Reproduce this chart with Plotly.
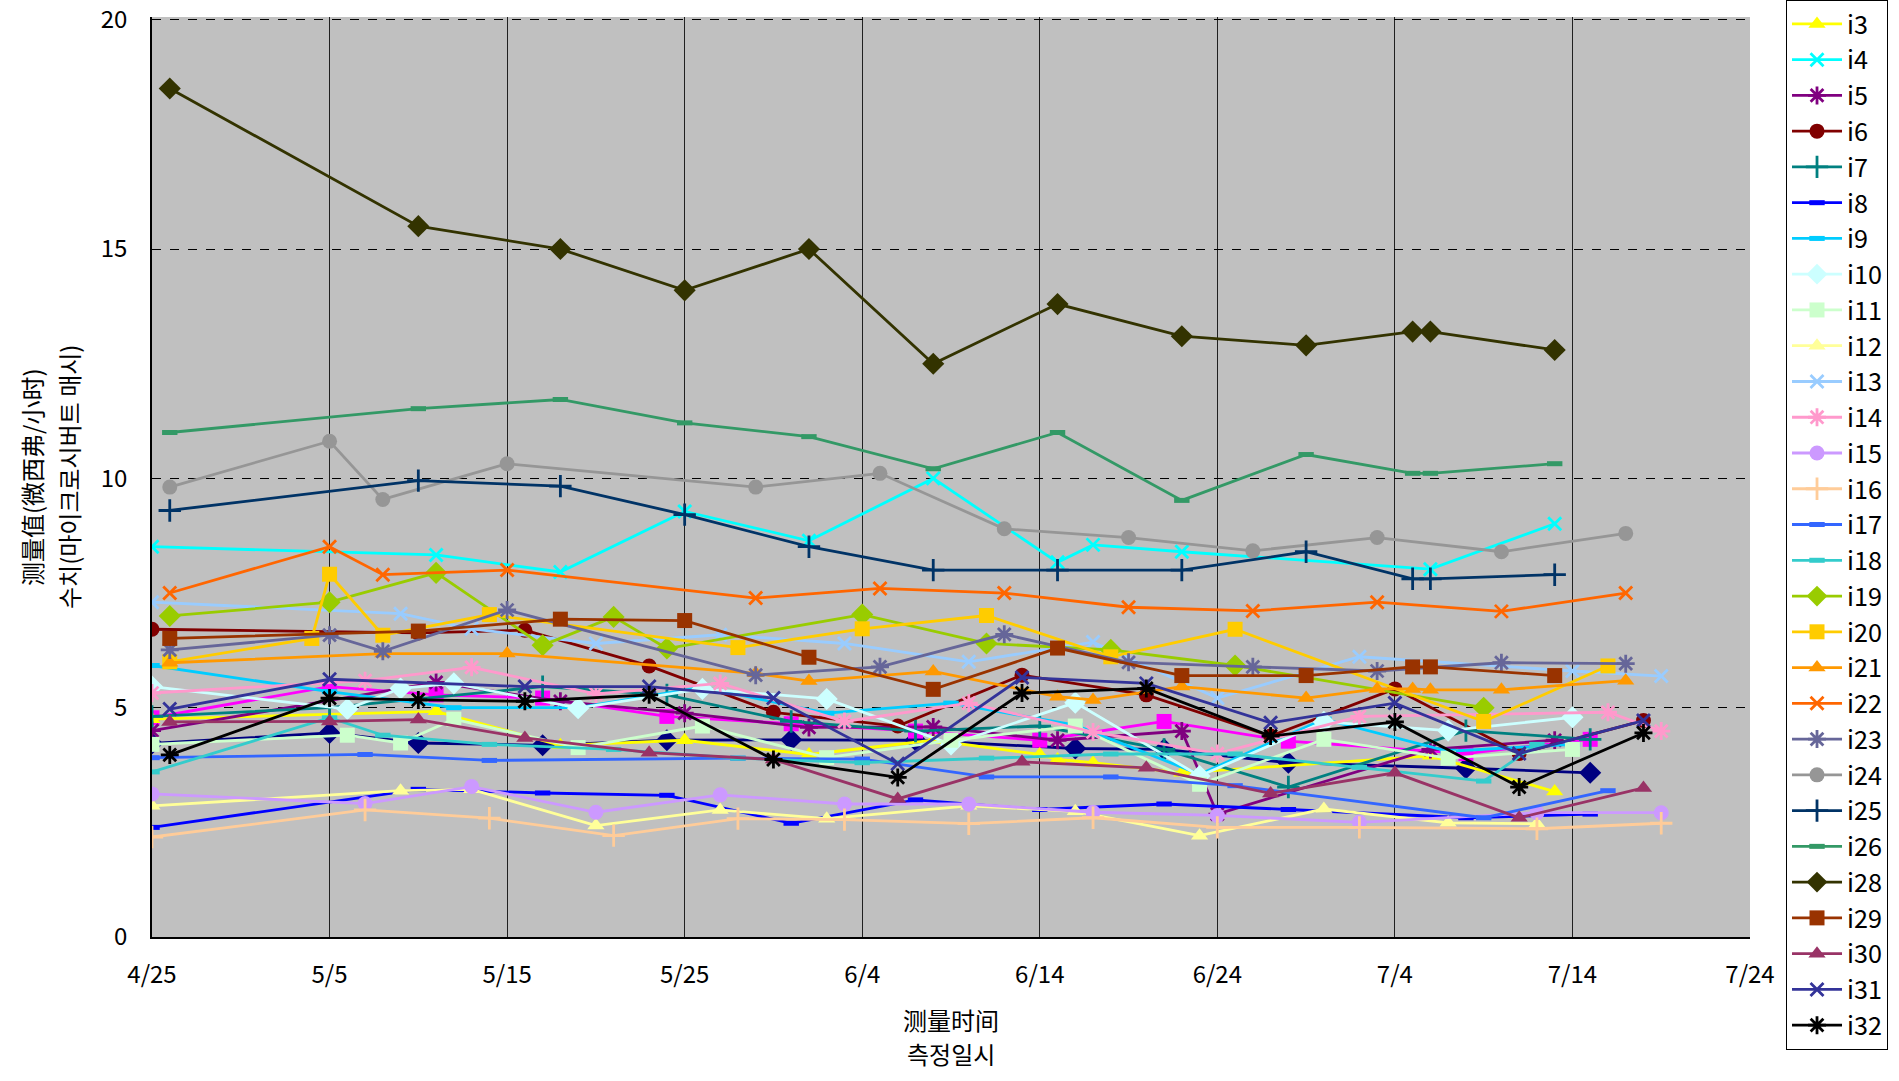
import plotly.graph_objects as go

YEAR = 2011

# ---- data: dates (M/D) and measured values (uSv/h) ----
I1_DATES = ["4/25","5/5","5/10","5/17","5/24","5/31","6/7","6/16","6/21","6/28","7/8","7/15"]
I1_VALS = [4.22,4.45,4.23,4.18,4.29,4.30,4.29,4.11,4.09,3.80,3.68,3.58]
I2_DATES = ["4/25","5/5","5/11","5/17","5/24","5/31","6/7","6/14","6/21","6/28","7/8","7/15"]
I2_VALS = [4.78,5.46,5.28,5.21,4.81,4.65,4.49,4.29,4.70,4.27,4.00,4.31]
I3_DATES = ["4/25","5/11","5/18","5/25","6/1","6/8","6/14","6/15","6/17","6/22","7/6","7/13"]
I3_VALS = [4.75,4.92,4.18,4.29,3.98,4.29,3.98,3.87,3.80,3.58,3.95,3.17]
I4_DATES = ["4/25","5/11","5/18","5/25","6/1","6/8","6/15","6/17","6/22","7/6","7/13"]
I4_VALS = [8.51,8.33,7.96,9.28,8.64,10.0,8.17,8.55,8.40,8.02,9.01]
I5_DATES = ["4/25","5/11","5/18","5/25","6/1","6/8","6/15","6/22","6/24","7/6","7/13"]
I5_VALS = [4.50,5.55,5.14,4.88,4.57,4.58,4.29,4.49,2.68,4.09,4.29]
I6_DATES = ["4/25","5/10","5/16","5/23","5/30","6/6","6/13","6/20","6/27","7/4","7/11","7/18"]
I6_VALS = [6.71,6.63,6.69,5.91,4.90,4.60,5.71,5.28,4.38,5.41,4.00,4.72]
I7_DATES = ["4/25","5/5","5/17","5/24","5/31","6/7","6/14","6/21","6/28","7/8","7/15"]
I7_VALS = [4.81,5.00,5.46,5.28,4.70,4.49,4.60,4.09,3.27,4.50,4.31]
I8_DATES = ["4/25","5/10","5/17","5/24","5/31","6/7","6/14","6/21","6/28","7/8","7/15"]
I8_VALS = [2.39,3.22,3.14,3.09,2.48,2.99,2.78,2.90,2.78,2.60,2.68]
I9_DATES = ["4/25","5/5","5/12","5/19","5/26","6/2","6/9","6/16","6/23","6/30","7/7","7/14"]
I9_VALS = [5.92,5.35,5.00,5.00,5.45,4.88,5.10,4.62,3.55,4.75,4.05,4.20]
I10_DATES = ["4/25","5/6","5/9","5/12","5/19","5/26","6/2","6/9","6/16","6/23","6/30","7/7","7/14"]
I10_VALS = [5.46,4.97,5.42,5.53,4.99,5.41,5.19,4.20,5.11,3.51,4.69,4.50,4.79]
I11_DATES = ["4/25","5/6","5/9","5/12","5/19","5/26","6/2","6/9","6/16","6/23","6/30","7/7","7/14"]
I11_VALS = [4.20,4.40,4.23,4.75,4.13,4.60,3.91,4.29,4.60,3.33,4.31,3.90,4.09]
I12_DATES = ["4/25","5/9","5/13","5/20","5/27","6/2","6/10","6/16","6/23","6/30","7/7","7/12"]
I12_VALS = [2.86,3.19,3.22,2.43,2.77,2.58,2.86,2.74,2.21,2.79,2.49,2.47]
I13_DATES = ["4/25","5/9","5/13","5/20","5/27","6/3","6/10","6/17","6/24","7/2","7/14","7/19"]
I13_VALS = [7.30,7.05,6.72,6.40,6.59,6.40,6.00,6.43,5.21,6.11,5.80,5.69]
I14_DATES = ["4/25","5/7","5/13","5/20","5/27","6/3","6/10","6/17","6/24","7/2","7/16","7/19"]
I14_VALS = [5.32,5.59,5.88,5.30,5.53,4.70,5.10,4.47,4.00,4.81,4.90,4.49]
I15_DATES = ["4/25","5/7","5/13","5/20","5/27","6/3","6/10","6/17","6/24","7/2","7/12","7/19"]
I15_VALS = [3.12,2.91,3.28,2.72,3.10,2.90,2.90,2.72,2.65,2.50,2.71,2.71]
I16_DATES = ["4/25","5/7","5/14","5/21","5/28","6/3","6/10","6/17","6/24","7/2","7/12","7/19"]
I16_VALS = [2.18,2.77,2.59,2.21,2.58,2.56,2.47,2.60,2.39,2.39,2.36,2.48]
I17_DATES = ["4/25","5/7","5/14","5/28","6/4","6/11","6/18","6/25","7/9","7/16"]
I17_VALS = [3.91,3.98,3.85,3.90,3.88,3.49,3.49,3.30,2.60,3.19]
I18_DATES = ["4/25","5/5","5/8","5/14","5/21","5/28","6/4","6/11","6/18","6/25","7/2","7/9","7/12"]
I18_VALS = [3.60,4.78,4.40,4.20,4.09,3.90,3.80,3.90,3.99,3.99,3.70,3.40,4.20]
I19_DATES = ["4/26","5/5","5/11","5/17","5/21","5/24","6/4","6/11","6/18","6/25","7/9"]
I19_VALS = [7.00,7.30,7.94,6.36,6.98,6.29,7.03,6.40,6.26,5.92,5.00]
I20_DATES = ["4/26","5/4","5/5","5/8","5/14","5/28","6/4","6/11","6/18","6/25","7/9","7/16"]
I20_VALS = [6.00,6.51,7.91,6.58,7.03,6.31,6.72,7.01,6.11,6.71,4.70,5.91]
I21_DATES = ["4/26","5/8","5/15","5/29","6/1","6/8","6/15","6/17","6/22","6/29","7/3","7/5","7/6","7/10","7/17"]
I21_VALS = [5.98,6.18,6.18,5.75,5.58,5.79,5.24,5.17,5.46,5.21,5.41,5.41,5.39,5.39,5.59]
I22_DATES = ["4/26","5/5","5/8","5/15","5/29","6/5","6/12","6/19","6/26","7/3","7/10","7/17"]
I22_VALS = [7.50,8.51,7.90,8.00,7.39,7.60,7.50,7.19,7.11,7.30,7.10,7.50]
I23_DATES = ["4/26","5/5","5/8","5/15","5/29","6/5","6/12","6/19","6/26","7/3","7/10","7/17"]
I23_VALS = [6.26,6.58,6.23,7.13,5.71,5.89,6.60,5.99,5.89,5.80,5.98,5.96]
I24_DATES = ["4/26","5/5","5/8","5/15","5/29","6/5","6/12","6/19","6/26","7/3","7/10","7/17"]
I24_VALS = [9.81,10.81,9.54,10.32,9.81,10.11,8.90,8.71,8.42,8.71,8.40,8.80]
I25_DATES = ["4/26","5/10","5/18","5/25","6/1","6/8","6/15","6/22","6/29","7/5","7/6","7/13"]
I25_VALS = [9.30,9.95,9.83,9.21,8.51,8.00,8.00,8.00,8.40,7.81,7.81,7.90]
I26_DATES = ["4/26","5/10","5/18","5/25","6/1","6/8","6/15","6/22","6/29","7/5","7/6","7/13"]
I26_VALS = [11.0,11.52,11.72,11.21,10.91,10.21,11.0,9.52,10.52,10.11,10.11,10.32]
I28_DATES = ["4/26","5/10","5/18","5/25","6/1","6/8","6/15","6/22","6/29","7/5","7/6","7/13"]
I28_VALS = [18.5,15.5,15.0,14.1,15.0,12.5,13.8,13.1,12.9,13.2,13.2,12.8]
I29_DATES = ["4/26","5/10","5/18","5/25","6/1","6/8","6/15","6/22","6/29","7/5","7/6","7/13"]
I29_VALS = [6.51,6.67,6.93,6.90,6.10,5.40,6.30,5.70,5.70,5.89,5.89,5.70]
I30_DATES = ["4/26","5/5","5/10","5/16","5/23","5/30","6/6","6/13","6/20","6/27","7/4","7/11","7/18"]
I30_VALS = [4.69,4.70,4.74,4.34,4.02,3.87,3.01,3.82,3.69,3.13,3.58,2.60,3.25]
I31_DATES = ["4/26","5/5","5/16","5/23","5/30","6/6","6/13","6/20","6/27","7/4","7/11","7/18"]
I31_VALS = [4.97,5.62,5.46,5.46,5.21,3.78,5.66,5.53,4.67,5.10,4.00,4.72]
I32_DATES = ["4/26","5/5","5/10","5/16","5/23","5/30","6/6","6/13","6/20","6/27","7/4","7/11","7/18"]
I32_VALS = [3.97,5.21,5.17,5.14,5.28,3.87,3.48,5.32,5.42,4.38,4.69,3.27,4.45]

X_TICK_START = "4/25"
X_TICK_END = "7/24"
Y_TICKS = [0, 5, 10, 15, 20]
Y_TITLE_LINES = ["测量值(微西弗/小时)", "수치(마이크로시버트 매시)"]
X_TITLE_LINES = ["测量时间", "측정일시"]

# name, dates, values, color, marker kind, show in legend
SERIES = [
    ("i1", I1_DATES, I1_VALS, "#000080", "diamond", False),
    ("i2", I2_DATES, I2_VALS, "#FF00FF", "square", False),
    ("i3", I3_DATES, I3_VALS, "#FFFF00", "triangle", True),
    ("i4", I4_DATES, I4_VALS, "#00FFFF", "x", True),
    ("i5", I5_DATES, I5_VALS, "#800080", "star", True),
    ("i6", I6_DATES, I6_VALS, "#800000", "circle", True),
    ("i7", I7_DATES, I7_VALS, "#008080", "plus", True),
    ("i8", I8_DATES, I8_VALS, "#0000FF", "dash", True),
    ("i9", I9_DATES, I9_VALS, "#00CCFF", "dash", True),
    ("i10", I10_DATES, I10_VALS, "#CCFFFF", "diamond", True),
    ("i11", I11_DATES, I11_VALS, "#CCFFCC", "square", True),
    ("i12", I12_DATES, I12_VALS, "#FFFF99", "triangle", True),
    ("i13", I13_DATES, I13_VALS, "#99CCFF", "x", True),
    ("i14", I14_DATES, I14_VALS, "#FF99CC", "star", True),
    ("i15", I15_DATES, I15_VALS, "#CC99FF", "circle", True),
    ("i16", I16_DATES, I16_VALS, "#FFCC99", "plus", True),
    ("i17", I17_DATES, I17_VALS, "#3366FF", "dash", True),
    ("i18", I18_DATES, I18_VALS, "#33CCCC", "dash", True),
    ("i19", I19_DATES, I19_VALS, "#99CC00", "diamond", True),
    ("i20", I20_DATES, I20_VALS, "#FFCC00", "square", True),
    ("i21", I21_DATES, I21_VALS, "#FF9900", "triangle", True),
    ("i22", I22_DATES, I22_VALS, "#FF6600", "x", True),
    ("i23", I23_DATES, I23_VALS, "#666699", "star", True),
    ("i24", I24_DATES, I24_VALS, "#969696", "circle", True),
    ("i25", I25_DATES, I25_VALS, "#003366", "plus", True),
    ("i26", I26_DATES, I26_VALS, "#339966", "dash", True),
    ("i28", I28_DATES, I28_VALS, "#333300", "diamond", True),
    ("i29", I29_DATES, I29_VALS, "#993300", "square", True),
    ("i30", I30_DATES, I30_VALS, "#993366", "triangle", True),
    ("i31", I31_DATES, I31_VALS, "#333399", "x", True),
    ("i32", I32_DATES, I32_VALS, "#000000", "star", True),
]

MARKERS = {
    "triangle": dict(symbol="triangle-up", size=15, lw=0),
    "x": dict(symbol="x-thin", size=13, lw=2.8),
    "star": dict(symbol="asterisk", size=15, lw=2.8),
    "circle": dict(symbol="circle", size=15, lw=0),
    "plus": dict(symbol="cross-thin", size=16, lw=2.8),
    "dash": dict(symbol="line-ew", size=11, lw=5),
    "diamond": dict(symbol="diamond", size=17, lw=0),
    "square": dict(symbol="square", size=15, lw=0),
}


def to_iso(md):
    m, d = md.split("/")
    return f"{YEAR}-{int(m):02d}-{int(d):02d}"


fig = go.Figure()
for name, dates, vals, color, kind, show in SERIES:
    mk = MARKERS[kind]
    fig.add_trace(go.Scatter(
        x=[to_iso(d) for d in dates], y=vals, name=name, mode="lines+markers",
        showlegend=show,
        line=dict(color=color, width=2.8),
        marker=dict(symbol=mk["symbol"], size=mk["size"], color=color,
                    line=dict(color=color, width=mk["lw"])),
    ))

FONT = "Noto Sans CJK JP"
L, R, T, B = 152, 149, 17, 144

annotations = []
for i, txt in enumerate(Y_TITLE_LINES):
    annotations.append(dict(
        text=txt, xref="paper", yref="paper", x=0, y=0.5, xanchor="center", yanchor="middle",
        xshift=[-121, -84][i], textangle=-90, showarrow=False,
        font=dict(family=FONT, size=24, color="black"),
    ))
for i, txt in enumerate(X_TITLE_LINES):
    annotations.append(dict(
        text=txt, xref="paper", yref="paper", x=0.5, y=0, xanchor="center", yanchor="middle",
        yshift=[-82, -116][i], showarrow=False,
        font=dict(family=FONT, size=24, color="black"),
    ))

fig.update_layout(
    width=1899, height=1081,
    margin=dict(l=L, r=R, t=T, b=B, autoexpand=False),
    paper_bgcolor="white", plot_bgcolor="#C0C0C0",
    font=dict(family=FONT, size=24, color="black"),
    annotations=annotations,
    legend=dict(
        xref="container", yref="container", x=0.9405, y=1.010,
        xanchor="left", yanchor="top", maxheight=1.0,
        bgcolor="white", bordercolor="black", borderwidth=1,
        font=dict(family=FONT, size=25.2), itemwidth=50, tracegroupgap=0,
    ),
    xaxis=dict(
        type="date", range=[to_iso(X_TICK_START), to_iso(X_TICK_END)],
        tick0=to_iso(X_TICK_START), dtick=10 * 86400000, tickformat="%-m/%-d",
        showgrid=True, gridcolor="#202020", gridwidth=1,
        showline=True, linecolor="black", linewidth=1.5, automargin=False,
        ticks="", ticklabelstandoff=15, zeroline=False,
    ),
    yaxis=dict(
        range=[0, 20.06], tickvals=Y_TICKS, ticklabeloverflow="allow",
        showgrid=True, gridcolor="black", gridwidth=1, griddash="dash",
        showline=True, linecolor="black", linewidth=1.5, automargin=False,
        ticks="", ticklabelstandoff=18, zeroline=False,
    ),
)

fig.write_html("out.html", config={"displayModeBar": False},
               post_script="document.body.style.margin='0';")
